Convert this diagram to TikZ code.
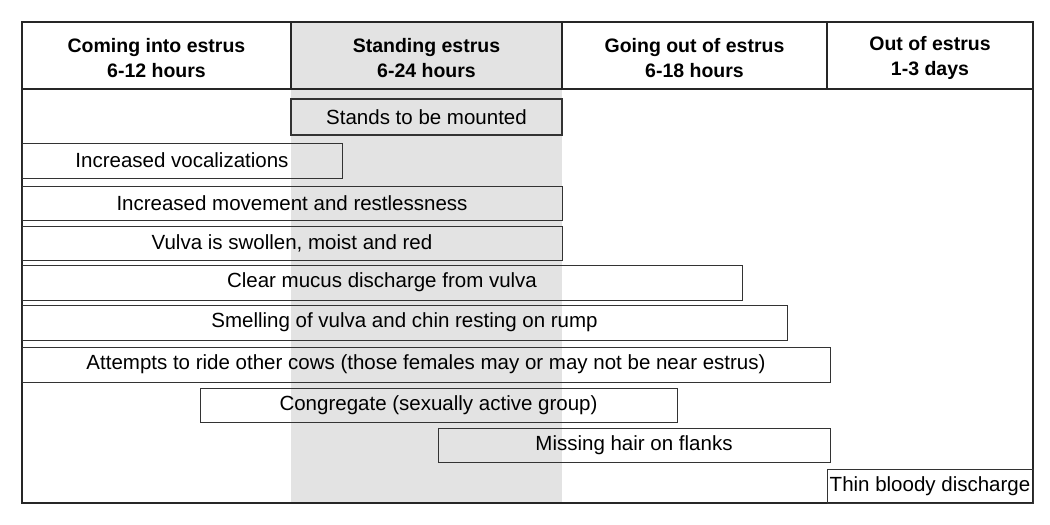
\documentclass[tikz,border=0pt]{standalone}
\usepackage{fontspec}
\setmainfont{Liberation Sans}
\usetikzlibrary{positioning}
\tikzset{%
    shaded col/.style={fill=black!11},
    frame/.style={draw=black!85, line width=1.2pt},
    bar/.style={draw=black!80, line width=0.6pt},
    head/.style={font=\fontsize{19.5}{25}\selectfont\bfseries, align=center},
    lbl/.style={font=\fontsize{20.5}{24}\selectfont}
}
\begin{document}
\begin{tikzpicture}[x=1pt, y=-1pt]
    \useasboundingbox (0,0) rectangle (1050,525);
    \fill[shaded col] (291,22) rectangle (562,503);
    % header row
    \draw[frame] (22,22) rectangle (1033,503);
    \draw[frame] (22,89) -- (1033,89);
    \foreach \x in {291,562,827}
        \draw[frame] (\x,22) -- (\x,89);
    \node[head] (h1) at (156.5,58) {Coming into estrus\\6-12 hours};
    \node[head] (h2) at (426.5,58) {Standing estrus\\6-24 hours};
    \node[head] (h3) at (694.5,58) {Going out of estrus\\6-18 hours};
    \node[head] (h4) at (930,58) {Out of estrus\\1-3 days};
    % signs
    \draw[bar, line width=1.2pt] (291,99) rectangle (562,135);
    \node[lbl] (s1) at (426.5,117) {Stands to be mounted};
    \foreach \xa/\ya/\xb/\yb/\name/\txt in {
        22/143/342/178/s2/Increased vocalizations,
        22/186/562/220/s3/Increased movement and restlessness,
        22/226/562/260/s4/{Vulva is swollen, moist and red},
        22/265/742/300/s5/Clear mucus discharge from vulva,
        22/305/787/340/s6/Smelling of vulva and chin resting on rump,
        22/347/830/382/s7/Attempts to ride other cows (those females may or may not be near estrus),
        200/388/677/422/s8/Congregate (sexually active group),
        438/428/830/462/s9/Missing hair on flanks,
        827/469/1033/503/s10/Thin bloody discharge}
    {
        \draw[bar] (\xa,\ya) rectangle (\xb,\yb);
        \node[lbl] (\name) at ({(\xa+\xb)/2},{(\ya+\yb)/2}) {\txt};
    }
\end{tikzpicture}
\end{document}
